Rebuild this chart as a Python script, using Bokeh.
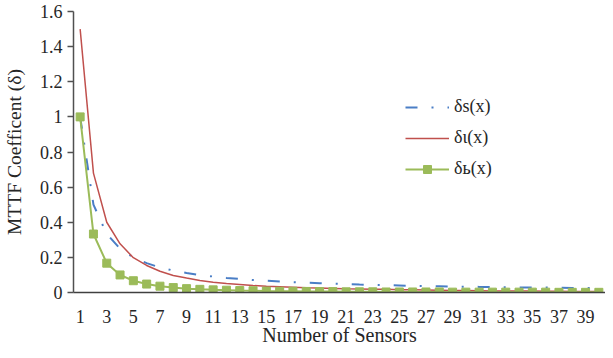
from bokeh.plotting import figure
from bokeh.models import FixedTicker, NumeralTickFormatter, Legend, LegendItem, Range1d
from bokeh.embed import file_html
from bokeh.resources import INLINE

# ---- data ----
sensors = [1, 2, 3, 4, 5, 6, 7, 8, 9, 10,
           11, 12, 13, 14, 15, 16, 17, 18, 19, 20,
           21, 22, 23, 24, 25, 26, 27, 28, 29, 30,
           31, 32, 33, 34, 35, 36, 37, 38, 39, 40]

delta_s = [1.0, 0.5, 0.333, 0.25, 0.2, 0.167, 0.143, 0.125, 0.111, 0.1,
           0.091, 0.083, 0.077, 0.071, 0.067, 0.063, 0.059, 0.056, 0.053, 0.05,
           0.048, 0.045, 0.043, 0.042, 0.04, 0.038, 0.037, 0.036, 0.034, 0.033,
           0.032, 0.031, 0.03, 0.029, 0.029, 0.028, 0.027, 0.026, 0.026, 0.025]

delta_l = [1.5, 0.68, 0.40, 0.277, 0.198, 0.154, 0.121, 0.097, 0.082, 0.068,
           0.059, 0.051, 0.046, 0.040, 0.036, 0.033, 0.030, 0.027, 0.025, 0.023,
           0.021, 0.020, 0.019, 0.018, 0.016, 0.015, 0.014, 0.013, 0.012, 0.011,
           0.010, 0.009, 0.009, 0.008, 0.008, 0.007, 0.007, 0.006, 0.006, 0.005]

delta_b = [1.0, 0.333, 0.167, 0.1, 0.067, 0.048, 0.036, 0.028, 0.022, 0.018,
           0.015, 0.013, 0.011, 0.01, 0.008, 0.007, 0.007, 0.006, 0.005, 0.005,
           0.004, 0.004, 0.004, 0.003, 0.003, 0.003, 0.003, 0.003, 0.002, 0.002,
           0.002, 0.002, 0.002, 0.002, 0.002, 0.002, 0.001, 0.001, 0.001, 0.001]

x_ticks = [1, 3, 5, 7, 9, 11, 13, 15, 17, 19, 21, 23, 25, 27, 29, 31, 33, 35, 37, 39]
y_ticks = [0, 0.2, 0.4, 0.6, 0.8, 1.0, 1.2, 1.4, 1.6]

series_labels = ["δs(x)", "δι(x)", "δь(x)"]
x_title = "Number of Sensors"
y_title = "MTTF Coefficent (δ)"

FONT = "Liberation Serif"
TXT = "#262626"

p = figure(width=605, height=353, output_backend="svg", toolbar_location=None,
           x_range=Range1d(0.5, 40.5), y_range=Range1d(0, 1.6),
           min_border_left=66, min_border_right=0, min_border_top=11, min_border_bottom=61)
p.outline_line_color = None
p.xgrid.visible = False
p.ygrid.visible = False
p.background_fill_color = "white"

r_s = p.line(sensors, delta_s, line_color="#4A7EC6", line_width=2, line_dash="12 14 2 14")
r_l = p.line(sensors, delta_l, line_color="#C0504D", line_width=1.5)
r_b = p.line(sensors, delta_b, line_color="#9BBB59", line_width=2)
r_bm = p.scatter(sensors, delta_b, marker="square", size=8, fill_color="#9BBB59", line_color="#9BBB59")

# x axis
xa = p.xaxis[0]
xa.ticker = FixedTicker(ticks=x_ticks)
xa.major_tick_out = 0
xa.major_tick_in = 0
xa.minor_tick_out = 0
xa.minor_tick_in = 0
xa.axis_line_color = "#404040"
xa.axis_line_width = 1.5
xa.major_label_text_font = FONT
xa.major_label_text_font_size = "18px"
xa.major_label_text_color = TXT
xa.major_label_standoff = 17
xa.axis_label = x_title
xa.axis_label_text_font = FONT
xa.axis_label_text_font_size = "20px"
xa.axis_label_text_font_style = "normal"
xa.axis_label_text_color = TXT
xa.axis_label_standoff = -2

# y axis
ya = p.yaxis[0]
ya.ticker = FixedTicker(ticks=y_ticks)
ya.formatter = NumeralTickFormatter(format="0.[0]")
ya.major_tick_out = 6
ya.major_tick_in = 0
ya.minor_tick_out = 0
ya.minor_tick_in = 0
ya.axis_line_color = "#505050"
ya.major_tick_line_color = "#505050"
ya.axis_line_width = 1.5
ya.major_tick_line_width = 1.5
ya.major_label_text_font = FONT
ya.major_label_text_font_size = "18px"
ya.major_label_text_color = TXT
ya.major_label_standoff = 5
ya.axis_label = y_title
ya.axis_label_text_font = FONT
ya.axis_label_text_font_size = "19.5px"
ya.axis_label_text_font_style = "normal"
ya.axis_label_text_color = TXT
ya.axis_label_standoff = 12

legend = Legend(items=[
    LegendItem(label=series_labels[0], renderers=[r_s]),
    LegendItem(label=series_labels[1], renderers=[r_l]),
    LegendItem(label=series_labels[2], renderers=[r_b, r_bm]),
], location=(332, 113))
legend.border_line_color = None
legend.background_fill_alpha = 0
legend.padding = 0
legend.margin = 0
legend.spacing = 10
legend.glyph_width = 44
legend.glyph_height = 20
legend.label_height = 20
legend.label_standoff = 5
legend.label_text_font = FONT
legend.label_text_font_size = "18px"
legend.label_text_color = TXT
p.add_layout(legend, "center")

open("out.html", "w").write(file_html(p, INLINE))
